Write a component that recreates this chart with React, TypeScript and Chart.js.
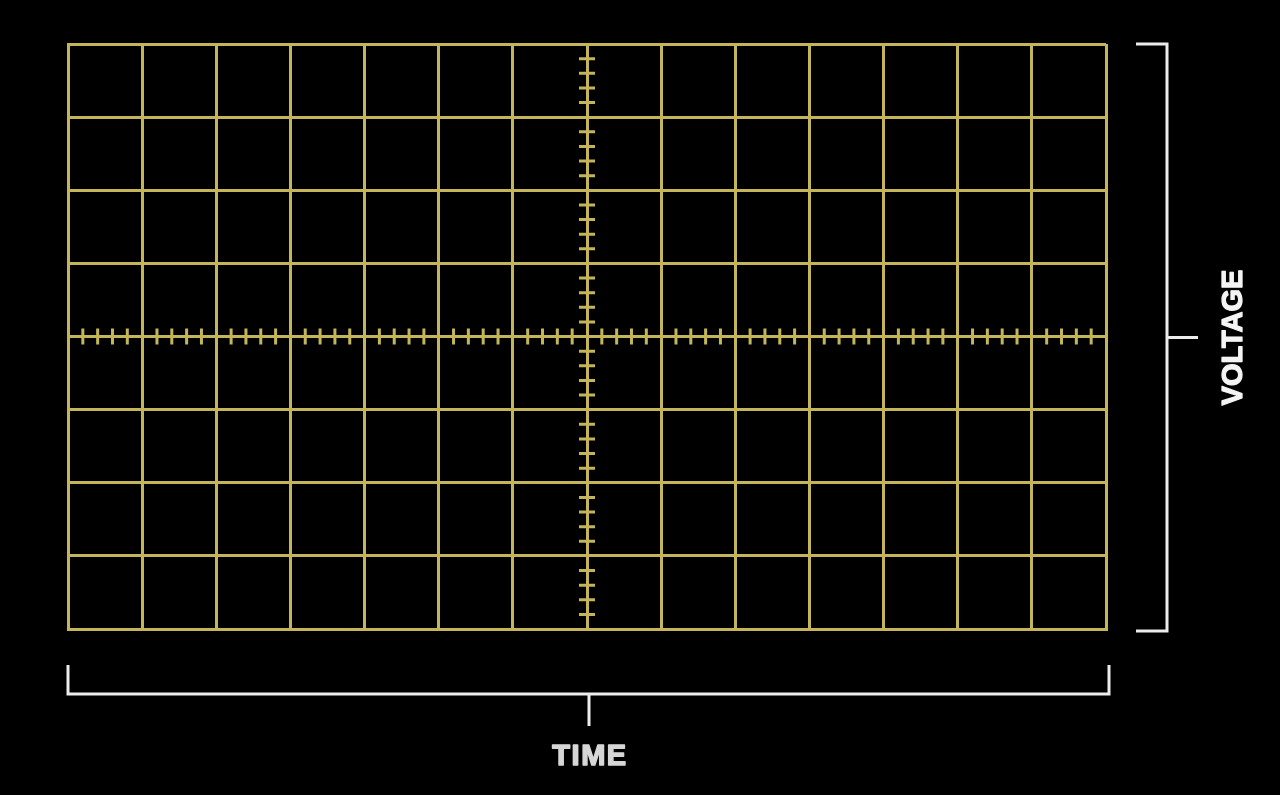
import React, { useEffect, useRef } from 'react';
import { Chart, registerables } from 'chart.js';

Chart.register(...registerables);

// Graticule divisions (volts/div and time/div), in division units
const X_TICKS = [-7, -6, -5, -4, -3, -2, -1, 0, 1, 2, 3, 4, 5, 6, 7];
const Y_TICKS = [-4, -3, -2, -1, 0, 1, 2, 3, 4];
const MINOR_STEPS = [0.2, 0.4, 0.6, 0.8];
const X_LABEL = 'TIME';
const Y_LABEL = 'VOLTAGE';

const GRID_COLOR = 'rgb(196,181,88)';
const BRACKET_COLOR = '#ececec';

const scopePlugin = {
  id: 'scopeDecor',
  afterDraw(chart: any) {
    const { ctx, chartArea } = chart;
    const x = chart.scales.x;
    const y = chart.scales.y;
    const cx = x.getPixelForValue(0);
    const cy = y.getPixelForValue(0);
    ctx.save();
    ctx.lineCap = 'butt';
    // minor ticks on center axes
    ctx.strokeStyle = GRID_COLOR;
    ctx.lineWidth = 3;
    ctx.beginPath();
    for (let i = 0; i < X_TICKS.length - 1; i++) {
      for (const m of MINOR_STEPS) {
        const px = x.getPixelForValue(X_TICKS[i] + m);
        ctx.moveTo(px, cy - 8);
        ctx.lineTo(px, cy + 8);
      }
    }
    for (let i = 0; i < Y_TICKS.length - 1; i++) {
      for (const m of MINOR_STEPS) {
        const py = y.getPixelForValue(Y_TICKS[i] + m);
        ctx.moveTo(cx - 8, py);
        ctx.lineTo(cx + 8, py);
      }
    }
    ctx.stroke();

    // right bracket (voltage)
    ctx.strokeStyle = BRACKET_COLOR;
    ctx.lineWidth = 3;
    ctx.lineJoin = 'miter';
    const bx = chartArea.right + 61;
    const top = chartArea.top;
    const bot = chartArea.bottom + 2;
    ctx.beginPath();
    ctx.moveTo(bx - 31, top);
    ctx.lineTo(bx, top);
    ctx.lineTo(bx, bot);
    ctx.lineTo(bx - 31, bot);
    ctx.moveTo(bx, cy + 1);
    ctx.lineTo(bx + 31, cy + 1);
    ctx.stroke();

    // bottom bracket (time)
    const by = chartArea.bottom + 65;
    const lx = chartArea.left;
    const rx = chartArea.right + 3;
    ctx.beginPath();
    ctx.moveTo(lx, by - 29);
    ctx.lineTo(lx, by);
    ctx.lineTo(rx, by);
    ctx.lineTo(rx, by - 29);
    ctx.moveTo(cx + 2, by);
    ctx.lineTo(cx + 2, by + 32);
    ctx.stroke();

    // labels
    ctx.font = 'bold 29px "Liberation Sans", Arial, sans-serif';
    ctx.textAlign = 'center';
    ctx.textBaseline = 'alphabetic';
    ctx.lineJoin = 'round';

    ctx.fillStyle = '#d6d6d6';
    ctx.strokeStyle = '#d6d6d6';
    ctx.lineWidth = 1.5;
    (ctx as any).letterSpacing = '1.5px';
    ctx.fillText(X_LABEL, cx + 3, by + 71);
    ctx.strokeText(X_LABEL, cx + 3, by + 71);

    (ctx as any).letterSpacing = '0px';
    ctx.fillStyle = '#f4f4f4';
    ctx.strokeStyle = '#f4f4f4';
    ctx.lineWidth = 1.2;
    ctx.translate(bx + 75, cy + 1);
    ctx.rotate(-Math.PI / 2);
    ctx.fillText(Y_LABEL, 0, 0);
    ctx.strokeText(Y_LABEL, 0, 0);
    ctx.restore();
  },
};

export default function App() {
  const canvasRef = useRef<HTMLCanvasElement | null>(null);

  useEffect(() => {
    const canvas = canvasRef.current;
    if (!canvas) return;
    const chart = new Chart(canvas, {
      type: 'scatter',
      data: { datasets: [] },
      options: {
        animation: false,
        responsive: true,
        maintainAspectRatio: false,
        layout: { padding: { left: 68, top: 44, right: 174, bottom: 166 } },
        plugins: { legend: { display: false }, tooltip: { enabled: false } },
        scales: {
          x: {
            type: 'linear',
            min: X_TICKS[0],
            max: X_TICKS[X_TICKS.length - 1],
            afterBuildTicks: (s: any) => {
              s.ticks = X_TICKS.map((v) => ({ value: v }));
            },
            ticks: { display: false },
            grid: { color: GRID_COLOR, lineWidth: 3, drawTicks: false },
            border: { display: true, color: GRID_COLOR, width: 3 },
          },
          y: {
            type: 'linear',
            min: Y_TICKS[0],
            max: Y_TICKS[Y_TICKS.length - 1],
            afterBuildTicks: (s: any) => {
              s.ticks = Y_TICKS.map((v) => ({ value: v }));
            },
            ticks: { display: false },
            grid: { color: GRID_COLOR, lineWidth: 3, drawTicks: false },
            border: { display: true, color: GRID_COLOR, width: 3 },
          },
        },
      },
      plugins: [scopePlugin],
    } as any);
    return () => chart.destroy();
  }, []);

  return (
    <div
      style={{
        position: 'absolute',
        left: 0,
        top: 0,
        width: 1280,
        height: 795,
        background: '#000',
      }}
    >
      <canvas ref={canvasRef} />
    </div>
  );
}
